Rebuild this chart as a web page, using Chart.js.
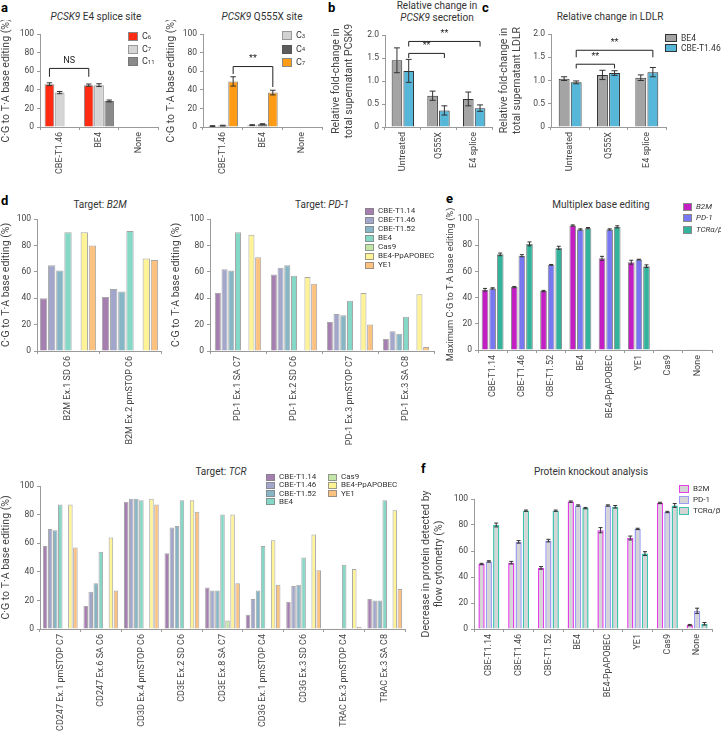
<!DOCTYPE html>
<html>
<head>
<meta charset="utf-8">
<script src="https://cdn.jsdelivr.net/npm/chart.js@4.4.0/dist/chart.umd.min.js"></script>
<style>
  body { margin: 0; background: #fff; font-family: Roboto, "Noto Sans", sans-serif; color: #333; }
  #page { position: relative; width: 721px; height: 736px; overflow: hidden; }
  canvas { position: absolute; }
  .t { position: absolute; white-space: nowrap; font-size: 10px; color: #333; transform: translate(-50%, -50%); text-align: center; line-height: 12px; }
  .p { position: absolute; font-weight: bold; font-size: 13px; color: #000; }
  .lg { position: absolute; color: #333; white-space: nowrap; line-height: 1; display: flex; align-items: center; }
  .lg span.b { display: inline-block; margin-right: 4px; box-sizing: border-box; }
</style>
</head>
<body>
<div id="page">
  <div class="p" style="left:1px;top:0px">a</div>
  <div class="t" style="left:96px;top:17px"><i>PCSK9</i> E4 splice site</div>
  <div class="t" style="left:262px;top:17px"><i>PCSK9</i> Q555X site</div>
  <div class="p" style="left:328px;top:0px">b</div>
  <div class="t" style="left:437px;top:12px">Relative change in<br><i>PCSK9</i> secretion</div>
  <div class="p" style="left:482px;top:0px">c</div>
  <div class="t" style="left:610px;top:17px">Relative change in LDLR</div>

  <div class="p" style="left:1px;top:193px">d</div>
  <div class="t" style="left:100px;top:205px">Target: <i>B2M</i></div>
  <div class="t" style="left:322px;top:205px">Target: <i>PD-1</i></div>
  <div class="p" style="left:446px;top:191px">e</div>
  <div class="t" style="left:601px;top:205px">Multiplex base editing</div>

  <div class="t" style="left:221px;top:472px">Target: <i>TCR</i></div>
  <div class="p" style="left:421px;top:461px">f</div>
  <div class="t" style="left:591px;top:472px">Protein knockout analysis</div>
</div>
<script>
// ---------- data ----------
// a: PCSK9 editing at each cytosine
const aGroups = ['CBE-T1.46', 'BE4', 'None'];
const e4C6 = [46, 45, 0.6];
const e4C7 = [37, 45, 0.6];
const e4C11 = [0.6, 28, 0.6];
const e4C6Err = [1.5, 1.2, 0];
const e4C7Err = [1.2, 1.5, 0];
const e4C11Err = [0, 1, 0];
const q555C3 = [1, 2, 0.6];
const q555C4 = [1.5, 3, 0.6];
const q555C7 = [49, 37, 0.6];
const q555C3Err = [0.4, 0.5, 0];
const q555C4Err = [0.4, 0.5, 0];
const q555C7Err = [5, 2.5, 0];

// b, c: fold change
const treatments = ['Untreated', 'Q555X', 'E4 splice'];
const pcsk9BE4 = [1.45, 0.68, 0.61];
const pcsk9CBE = [1.22, 0.36, 0.41];
const pcsk9BE4Err = [0.27, 0.1, 0.15];
const pcsk9CBEErr = [0.25, 0.1, 0.07];
const ldlrBE4 = [1.04, 1.12, 1.06];
const ldlrCBE = [0.96, 1.16, 1.18];
const ldlrBE4Err = [0.04, 0.1, 0.06];
const ldlrCBEErr = [0.03, 0.05, 0.1];

// d: editors, one array per site (same order as editors)
const editors = ['CBE-T1.14', 'CBE-T1.46', 'CBE-T1.52', 'BE4', 'Cas9', 'BE4-PpAPOBEC', 'YE1'];
const b2mSites = ['B2M Ex.1 SD C6', 'B2M Ex.2 pmSTOP C6'];
const b2mEx1SD = [40, 65, 61, 90, 0.6, 90, 80];
const b2mEx2Stop = [41, 47, 45, 91, 0.6, 70, 69];
const pd1Sites = ['PD-1 Ex.1 SA C7', 'PD-1 Ex.2 SD C6', 'PD-1 Ex.3 pmSTOP C7', 'PD-1 Ex.3 SA C8'];
const pd1Ex1SA = [44, 62, 61, 90, 0.6, 88, 71];
const pd1Ex2SD = [58, 63, 65, 57, 0.6, 56, 51];
const pd1Ex3Stop = [22, 28, 27, 38, 0.6, 44, 20];
const pd1Ex3SA = [9, 15, 13, 26, 0.6, 43, 3];
const tcrSites = ['CD247 Ex.1 pmSTOP C7', 'CD247 Ex.6 SA C6', 'CD3D Ex.4 pmSTOP C6', 'CD3E Ex.2 SD C6',
  'CD3E Ex.8 SA C7', 'CD3G Ex.1 pmSTOP C4', 'CD3G Ex.3 SD C6', 'TRAC Ex.3 pmSTOP C4', 'TRAC Ex.3 SA C8'];
const cd247Ex1 = [58, 70, 69, 87, 0.6, 87, 57];
const cd247Ex6 = [16, 26, 32, 54, 0.6, 64, 27];
const cd3dEx4 = [89, 91, 91, 90, 0.6, 91, 87];
const cd3eEx2 = [53, 71, 72, 90, 0.6, 90, 82];
const cd3eEx8 = [29, 27, 27, 80, 6, 80, 32];
const cd3gEx1 = [10, 21, 27, 58, 0.6, 62, 31];
const cd3gEx3 = [19, 30, 31, 50, 0.6, 66, 41];
const tracEx3Stop = [0.6, 0.6, 0.6, 45, 0.6, 42, 1.5];
const tracEx3SA = [21, 20, 20, 90, 0.6, 83, 28];

// e, f: multiplex
const multiEditors = ['CBE-T1.14', 'CBE-T1.46', 'CBE-T1.52', 'BE4', 'BE4-PpAPOBEC', 'YE1', 'Cas9', 'None'];
const multiB2M = [46, 48, 45, 95, 70, 67, 0.6, 0.6];
const multiPD1 = [47, 72, 65, 92, 92, 69, 0.6, 0.6];
const multiTCR = [73, 81, 78, 93, 94, 64, 0.6, 0.6];
const multiB2MErr = [1, 0.5, 0.5, 0.5, 1.5, 1.5, 0, 0];
const multiPD1Err = [0.5, 0.8, 0.3, 0.5, 0.5, 0.3, 0, 0];
const multiTCRErr = [1, 1.5, 1.2, 0.5, 0.8, 1, 0, 0];
const koB2M = [50, 51, 47, 98, 76, 70, 97, 3];
const koPD1 = [52, 67, 68, 95, 95, 77, 90, 14];
const koTCR = [80, 91, 91, 93, 94, 58, 95, 4];
const koB2MErr = [0.5, 1, 1, 0.5, 2, 1.5, 0.5, 0.5];
const koPD1Err = [0.5, 1, 1, 0.5, 0.5, 0.5, 0.5, 2];
const koTCRErr = [1.5, 0.5, 0.5, 0.5, 1, 1.5, 1.5, 1];

// ---------- styles ----------
const FONT = 'Roboto, "Noto Sans", sans-serif';
const AXIS = '#9a9a9a';
const TXT = '#444';
const editorColors = ['#A67FB1', '#A2A6CB', '#86B5C5', '#85D7C6', '#C3E6A8', '#FFF397', '#FDC280'];
const targetColors = ['#C31EC4', '#7777F2', '#33B39C'];
const koBorders = ['#E040E6', '#9C9CF2', '#3FC2AE'];

// error bars from dataset.errors
const errorBars = {
  id: 'errorBars',
  afterDatasetsDraw(chart) {
    const ctx = chart.ctx;
    const y = chart.scales.y;
    chart.data.datasets.forEach((ds, i) => {
      if (!ds.errors) return;
      chart.getDatasetMeta(i).data.forEach((el, j) => {
        const e = ds.errors[j];
        if (!e) return;
        const v = ds.data[j];
        const top = y.getPixelForValue(v + e);
        const bot = y.getPixelForValue(Math.max(v - e, 0));
        const w = Math.max(2, el.width * 0.28);
        ctx.save();
        ctx.strokeStyle = '#333';
        ctx.lineWidth = 1;
        ctx.beginPath();
        ctx.moveTo(el.x, top); ctx.lineTo(el.x, bot);
        ctx.moveTo(el.x - w, top); ctx.lineTo(el.x + w, top);
        ctx.moveTo(el.x - w, bot); ctx.lineTo(el.x + w, bot);
        ctx.stroke();
        ctx.restore();
      });
    });
  }
};

// significance brackets
const brackets = {
  id: 'brackets',
  afterDraw(chart, args, opts) {
    const ctx = chart.ctx;
    const y = chart.scales.y;
    (opts.items || []).forEach(it => {
      const x1 = chart.getDatasetMeta(it.from[0]).data[it.from[1]].x;
      const x2 = chart.getDatasetMeta(it.to[0]).data[it.to[1]].x;
      const yy = y.getPixelForValue(it.at);
      ctx.save();
      ctx.strokeStyle = '#222';
      ctx.lineWidth = 1;
      ctx.beginPath();
      ctx.moveTo(x1, y.getPixelForValue(it.drop[0]));
      ctx.lineTo(x1, yy);
      ctx.lineTo(x2, yy);
      ctx.lineTo(x2, y.getPixelForValue(it.drop[1]));
      ctx.stroke();
      ctx.fillStyle = '#222';
      ctx.font = '9px ' + FONT;
      ctx.textAlign = 'center';
      ctx.textBaseline = 'bottom';
      ctx.fillText(it.text, (x1 + x2) / 2, yy - 3);
      ctx.restore();
    });
  }
};

function makeBar(id, box, plot, labels, datasets, cfg) {
  const cv = document.createElement('canvas');
  cv.id = id;
  cv.width = box.w;
  cv.height = box.h;
  cv.style.left = box.l + 'px';
  cv.style.top = box.t + 'px';
  document.getElementById('page').appendChild(cv);
  const yW = plot.l - box.l;
  const xH = box.t + box.h - plot.b;
  return new Chart(cv, {
    type: 'bar',
    data: { labels: labels, datasets: datasets },
    options: {
      responsive: false,
      animation: false,
      layout: { padding: { top: plot.t - box.t, right: box.l + box.w - plot.r, left: 0, bottom: 0 } },
      datasets: { bar: { categoryPercentage: cfg.cat, barPercentage: cfg.bar } },
      plugins: {
        legend: { display: false },
        tooltip: { enabled: false },
        brackets: { items: cfg.brackets || [] }
      },
      scales: {
        x: {
          grid: { drawOnChartArea: false, tickLength: 3, color: AXIS },
          border: { color: AXIS },
          ticks: { autoSkip: false, maxRotation: 90, minRotation: 90, padding: 2, color: TXT, font: { family: FONT, size: 9 } },
          afterFit(s) { s.height = xH; }
        },
        y: {
          min: cfg.min, max: cfg.max,
          grid: { drawOnChartArea: false, tickLength: 3, color: AXIS },
          border: { color: AXIS },
          ticks: { stepSize: cfg.step, padding: 3, color: TXT, font: { family: FONT, size: 8.5 }, callback: cfg.fmt },
          title: { display: true, text: cfg.title, color: TXT, font: { family: FONT, size: cfg.titleSize || 10.5 }, padding: { top: 0, bottom: 2 } },
          afterFit(s) { s.width = yW; }
        }
      }
    },
    plugins: [errorBars, brackets]
  });
}

function legend(x, y, dy, items, bw, bh, fs) {
  items.forEach((it, i) => {
    const d = document.createElement('div');
    d.className = 'lg';
    d.style.left = x + 'px';
    d.style.top = (y + i * dy) + 'px';
    d.style.fontSize = fs + 'px';
    d.innerHTML = '<span class="b" style="width:' + bw + 'px;height:' + bh + 'px;background:' + it.fill +
      ';border:1px solid ' + it.border + '"></span>' + it.text;
    document.getElementById('page').appendChild(d);
  });
}

function bySite(sites) {
  return editors.map((name, k) => ({
    label: name,
    data: sites.map(s => s[k]),
    backgroundColor: editorColors[k],
    borderColor: 'rgba(130,130,130,0.7)',
    borderWidth: 1
  }));
}

const pct = { min: 0, max: 100, step: 20, title: 'C\u00B7G to T\u00B7A base editing (%)' };
const fold = v => v === 0 ? '0' : v.toFixed(1);

// ---------- a ----------
makeBar('aE4', { l: 0, t: 20, w: 162, h: 170 }, { l: 40, r: 158, t: 34, b: 127 }, aGroups, [
  { label: 'C6', data: e4C6, errors: e4C6Err, backgroundColor: '#FF2B12', borderColor: '#888', borderWidth: 1 },
  { label: 'C7', data: e4C7, errors: e4C7Err, backgroundColor: '#D5D5D5', borderColor: '#999', borderWidth: 1 },
  { label: 'C11', data: e4C11, errors: e4C11Err, backgroundColor: '#8A8A8A', borderColor: '#777', borderWidth: 1 }
], Object.assign({ cat: 0.78, bar: 0.95,
  brackets: [{ from: [0, 0], to: [0, 1], at: 63, drop: [54, 54], text: 'NS' }] }, pct));

makeBar('aQ555', { l: 165, t: 20, w: 160, h: 170 }, { l: 203, r: 322, t: 34, b: 127 }, aGroups, [
  { label: 'C3', data: q555C3, errors: q555C3Err, backgroundColor: '#D2D2D2', borderColor: '#999', borderWidth: 1 },
  { label: 'C4', data: q555C4, errors: q555C4Err, backgroundColor: '#5C5C5C', borderColor: '#555', borderWidth: 1 },
  { label: 'C7', data: q555C7, errors: q555C7Err, backgroundColor: '#FF9B14', borderColor: '#888', borderWidth: 1 }
], Object.assign({ cat: 0.78, bar: 0.95,
  brackets: [{ from: [2, 0], to: [2, 1], at: 65, drop: [57, 43], text: '**' }] }, pct));

legend(128, 32, 12.5, [
  { text: 'C<sub style="font-size:6px">6</sub>', fill: '#FF2B12', border: '#888' },
  { text: 'C<sub style="font-size:6px">7</sub>', fill: '#D5D5D5', border: '#999' },
  { text: 'C<sub style="font-size:6px">11</sub>', fill: '#8A8A8A', border: '#777' }
], 10, 9, 9);
legend(282, 31, 13.5, [
  { text: 'C<sub style="font-size:6px">3</sub>', fill: '#D2D2D2', border: '#999' },
  { text: 'C<sub style="font-size:6px">4</sub>', fill: '#5C5C5C', border: '#555' },
  { text: 'C<sub style="font-size:6px">7</sub>', fill: '#FF9B14', border: '#888' }
], 10, 9, 9);

// ---------- b, c ----------
const foldCfg = { min: 0, max: 2, step: 0.5, fmt: fold, cat: 0.66, bar: 0.9 };
makeBar('bPCSK9', { l: 330, t: 20, w: 165, h: 165 }, { l: 385, r: 492, t: 35, b: 127 }, treatments, [
  { label: 'BE4', data: pcsk9BE4, errors: pcsk9BE4Err, backgroundColor: '#A4A4A4', borderColor: '#333', borderWidth: 1 },
  { label: 'CBE-T1.46', data: pcsk9CBE, errors: pcsk9CBEErr, backgroundColor: '#57B7D8', borderColor: '#333', borderWidth: 1 }
], Object.assign({}, foldCfg, {
  title: ['Relative fold-change in', 'total supernatant PCSK9'],
  brackets: [
    { from: [1, 0], to: [1, 1], at: 1.6, drop: [1.5, 1.5], text: '**' },
    { from: [1, 0], to: [1, 2], at: 1.86, drop: [1.75, 1.75], text: '**' }
  ] }));

makeBar('cLDLR', { l: 498, t: 20, w: 172, h: 165 }, { l: 551, r: 666, t: 34, b: 127 }, treatments, [
  { label: 'BE4', data: ldlrBE4, errors: ldlrBE4Err, backgroundColor: '#A4A4A4', borderColor: '#333', borderWidth: 1 },
  { label: 'CBE-T1.46', data: ldlrCBE, errors: ldlrCBEErr, backgroundColor: '#57B7D8', borderColor: '#333', borderWidth: 1 }
], Object.assign({}, foldCfg, {
  cat: 0.63,
  title: ['Relative fold-change in', 'total supernatant LDLR'],
  brackets: [
    { from: [1, 0], to: [1, 1], at: 1.35, drop: [1.26, 1.26], text: '**' },
    { from: [1, 0], to: [1, 2], at: 1.65, drop: [1.5, 1.5], text: '**' }
  ] }));

legend(665, 34, 10, [
  { text: 'BE4', fill: '#A4A4A4', border: '#333' },
  { text: 'CBE-T1.46', fill: '#57B7D8', border: '#333' }
], 12, 8, 8.5);

// ---------- d ----------
makeBar('dB2M', { l: 0, t: 205, w: 165, h: 250 }, { l: 37, r: 161, t: 219, b: 351 },
  b2mSites, bySite([b2mEx1SD, b2mEx2Stop]), Object.assign({ cat: 0.92, bar: 0.9 }, pct));
makeBar('dPD1', { l: 170, t: 205, w: 268, h: 250 }, { l: 210, r: 434, t: 219, b: 351 },
  pd1Sites, bySite([pd1Ex1SA, pd1Ex2SD, pd1Ex3Stop, pd1Ex3SA]), Object.assign({ cat: 0.84, bar: 0.9 }, pct));
legend(365, 207, 9, editors.map((n, k) => ({ text: n, fill: editorColors[k], border: 'rgba(130,130,130,0.8)' })), 9, 7, 8);

makeBar('dTCR', { l: 0, t: 476, w: 410, h: 260 }, { l: 40, r: 405, t: 486, b: 629 },
  tcrSites, bySite([cd247Ex1, cd247Ex6, cd3dEx4, cd3eEx2, cd3eEx8, cd3gEx1, cd3gEx3, tracEx3Stop, tracEx3SA]),
  Object.assign({ cat: 0.87, bar: 0.9 }, pct));
legend(266, 473, 8.3, editors.slice(0, 4).map((n, k) => ({ text: n, fill: editorColors[k], border: 'rgba(130,130,130,0.8)' })), 9, 7, 8);
legend(328, 473, 8.3, editors.slice(4).map((n, k) => ({ text: n, fill: editorColors[k + 4], border: 'rgba(130,130,130,0.8)' })), 9, 7, 8);

// ---------- e ----------
const targetNames = ['<i>B2M</i>', '<i>PD-1</i>', '<i>TCR\u03B1/\u03B2</i>'];
makeBar('eMulti', { l: 445, t: 205, w: 270, h: 215 }, { l: 478, r: 712, t: 219, b: 350 }, multiEditors, [
  { label: 'B2M', data: multiB2M, errors: multiB2MErr, backgroundColor: targetColors[0], borderColor: '#888', borderWidth: 1 },
  { label: 'PD-1', data: multiPD1, errors: multiPD1Err, backgroundColor: targetColors[1], borderColor: '#888', borderWidth: 1 },
  { label: 'TCR', data: multiTCR, errors: multiTCRErr, backgroundColor: targetColors[2], borderColor: '#888', borderWidth: 1 }
], { min: 0, max: 100, step: 20, cat: 0.78, bar: 0.88, titleSize: 9.3, title: 'Maximum C\u00B7G to T\u00B7A base editing (%)' });
legend(683, 203, 11.3, targetNames.map((n, k) => ({ text: n, fill: targetColors[k], border: '#888' })), 9, 8, 8);

// ---------- f ----------
makeBar('fKO', { l: 420, t: 476, w: 296, h: 260 }, { l: 474, r: 712, t: 499, b: 629 }, multiEditors, [
  { label: 'B2M', data: koB2M, errors: koB2MErr, backgroundColor: '#D5D5D5', borderColor: koBorders[0], borderWidth: 1.5 },
  { label: 'PD-1', data: koPD1, errors: koPD1Err, backgroundColor: '#D5D5D5', borderColor: koBorders[1], borderWidth: 1.5 },
  { label: 'TCR', data: koTCR, errors: koTCRErr, backgroundColor: '#D5D5D5', borderColor: koBorders[2], borderWidth: 1.5 }
], { min: 0, max: 100, step: 20, cat: 0.74, bar: 0.86, title: ['Decrease in protein detected by', 'flow cytometry (%)'] });
legend(679, 485, 11, ['B2M', 'PD-1', 'TCR\u03B1/\u03B2'].map((n, k) => ({ text: n, fill: '#D5D5D5', border: koBorders[k] })), 10, 8, 8);
</script>
</body>
</html>
